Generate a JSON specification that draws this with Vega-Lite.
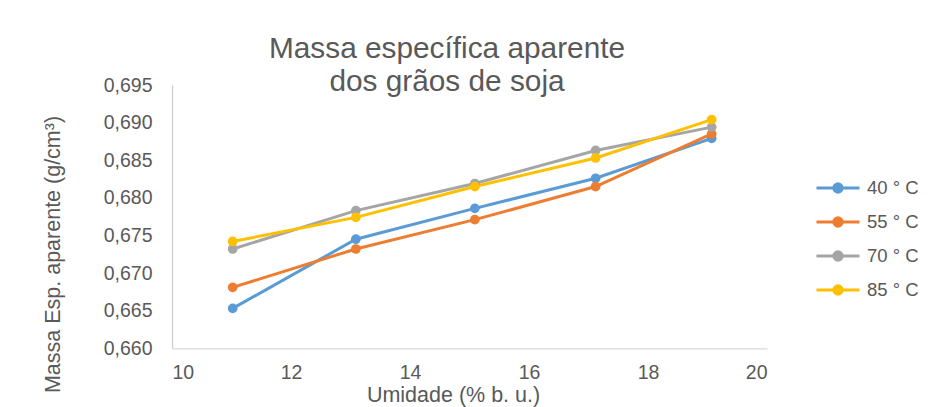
{
  "$schema": "https://vega.github.io/schema/vega-lite/v6.json",
  "autosize": {"type": "none"},
  "width": 595,
  "height": 263.3,
  "padding": {"left": 172, "top": 85, "right": 171, "bottom": 58.7},
  "background": "white",
  "config": {
    "view": {"stroke": null},
    "font": "Liberation Sans",
    "locale": {"number": {"decimal": ",", "thousands": ".", "grouping": [3], "currency": ["R$", ""]}}
  },
  "title": {
    "text": ["Massa específica aparente", "dos grãos de soja"],
    "fontSize": 29.8,
    "fontWeight": "normal",
    "color": "#595959",
    "font": "Liberation Sans",
    "lineHeight": 33.3,
    "anchor": "middle",
    "dx": -22.5,
    "offset": -22
  },
  "data": {
    "values": [
      {"umidade": 11.02, "massa": 0.6653, "temp": "40 ° C"},
      {"umidade": 13.09, "massa": 0.6745, "temp": "40 ° C"},
      {"umidade": 15.09, "massa": 0.6786, "temp": "40 ° C"},
      {"umidade": 17.12, "massa": 0.6826, "temp": "40 ° C"},
      {"umidade": 19.07, "massa": 0.6879, "temp": "40 ° C"},
      {"umidade": 11.02, "massa": 0.6681, "temp": "55 ° C"},
      {"umidade": 13.09, "massa": 0.6732, "temp": "55 ° C"},
      {"umidade": 15.09, "massa": 0.6771, "temp": "55 ° C"},
      {"umidade": 17.12, "massa": 0.6815, "temp": "55 ° C"},
      {"umidade": 19.07, "massa": 0.6885, "temp": "55 ° C"},
      {"umidade": 11.02, "massa": 0.6732, "temp": "70 ° C"},
      {"umidade": 13.09, "massa": 0.6783, "temp": "70 ° C"},
      {"umidade": 15.09, "massa": 0.6819, "temp": "70 ° C"},
      {"umidade": 17.12, "massa": 0.6863, "temp": "70 ° C"},
      {"umidade": 19.07, "massa": 0.6894, "temp": "70 ° C"},
      {"umidade": 11.02, "massa": 0.6742, "temp": "85 ° C"},
      {"umidade": 13.09, "massa": 0.6774, "temp": "85 ° C"},
      {"umidade": 15.09, "massa": 0.6815, "temp": "85 ° C"},
      {"umidade": 17.12, "massa": 0.6853, "temp": "85 ° C"},
      {"umidade": 19.07, "massa": 0.6904, "temp": "85 ° C"}
    ]
  },
  "mark": {
    "type": "line",
    "strokeWidth": 3,
    "point": {"filled": true, "size": 95, "opacity": 1}
  },
  "encoding": {
    "x": {
      "field": "umidade",
      "type": "quantitative",
      "scale": {"domain": [10, 20], "nice": false, "zero": false},
      "axis": {
        "title": "Umidade (% b. u.)",
        "values": [10, 12, 14, 16, 18, 20],
        "format": "d",
        "grid": false,
        "ticks": false,
        "tickSize": 0,
        "domainColor": "#D9D9D9",
        "domainWidth": 1.3,
        "labelFontSize": 19.5,
        "labelColor": "#595959",
        "labelPadding": 15,
        "labelFont": "Liberation Sans",
        "titleFont": "Liberation Sans",
        "titleFontSize": 21.5,
        "titleFontWeight": "normal",
        "titleColor": "#595959",
        "titleX": 281,
        "titleY": 47,
        "titleBaseline": "middle",
        "titleAlign": "center"
      }
    },
    "y": {
      "field": "massa",
      "type": "quantitative",
      "scale": {"domain": [0.66, 0.695], "nice": false, "zero": false},
      "axis": {
        "title": "Massa Esp. aparente (g/cm³)",
        "values": [0.66, 0.665, 0.67, 0.675, 0.68, 0.685, 0.69, 0.695],
        "format": ".3f",
        "grid": false,
        "ticks": false,
        "tickSize": 0,
        "domainColor": "#D0D0D0",
        "domainWidth": 1.3,
        "labelFontSize": 19.5,
        "labelColor": "#595959",
        "labelPadding": 20,
        "labelFont": "Liberation Sans",
        "titleFont": "Liberation Sans",
        "titleFontSize": 21.5,
        "titleFontWeight": "normal",
        "titleColor": "#595959",
        "titleAngle": 270,
        "titleX": -119,
        "titleY": 169,
        "titleBaseline": "middle",
        "titleAlign": "center"
      }
    },
    "color": {
      "field": "temp",
      "type": "nominal",
      "scale": {
        "domain": ["40 ° C", "55 ° C", "70 ° C", "85 ° C"],
        "range": ["#5B9BD5", "#ED7D31", "#A5A5A5", "#FFC000"]
      },
      "legend": {
        "title": null,
        "orient": "none",
        "legendX": 643,
        "legendY": 80,
        "symbolType": "M-1,0H1M-0.195,0A0.195,0.195,0,1,1,0.195,0A0.195,0.195,0,1,1,-0.195,0Z",
        "symbolSize": 1849,
        "symbolStrokeWidth": 3,
        "rowPadding": -7.5,
        "labelOffset": 6,
        "labelFontSize": 18.5,
        "labelColor": "#595959",
        "labelFont": "Liberation Sans",
        "encode": {
          "symbols": {
            "update": {
              "fill": {"scale": "color", "field": "value"},
              "stroke": {"scale": "color", "field": "value"},
              "strokeWidth": {"value": 3},
              "opacity": {"value": 1}
            }
          }
        }
      }
    }
  }
}
